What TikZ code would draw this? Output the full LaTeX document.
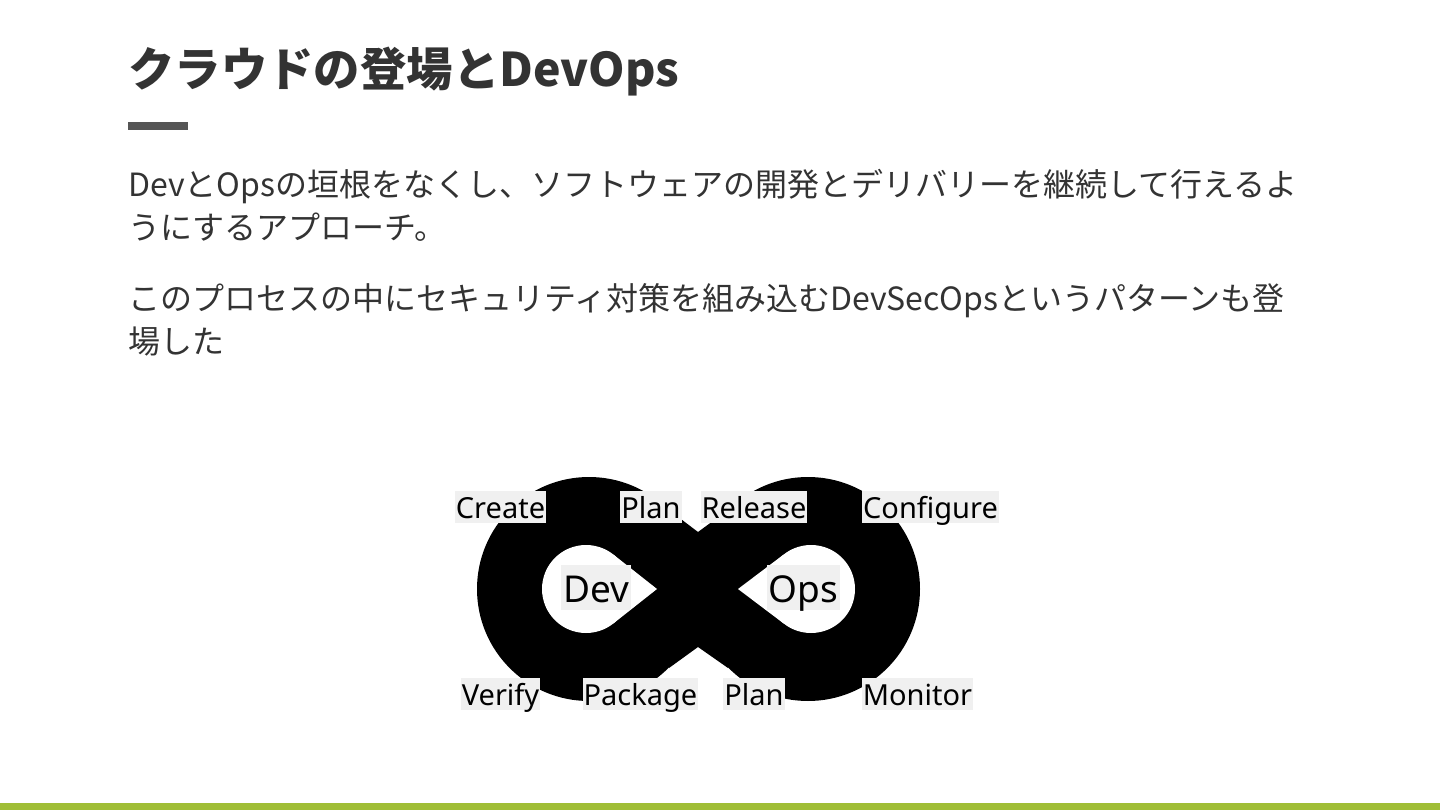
\documentclass[tikz,border=0pt]{standalone}
\usepackage{fontspec}
\setmainfont{Noto Sans CJK JP}
\newfontfamily\labfont{Noto Sans}
\definecolor{txt}{HTML}{333333}
\definecolor{barg}{HTML}{A0BE37}
\definecolor{grayb}{HTML}{555555}
\definecolor{labbg}{HTML}{F0F0F0}
\tikzset{
  titletext/.style={anchor=base west, inner sep=0, text=txt, font=\fontsize{46.4}{56}\selectfont\bfseries},
  bodytext/.style={anchor=base west, inner sep=0, text=txt, font=\fontsize{32}{43}\selectfont},
  lab/.style={fill=labbg, inner xsep=1pt, inner ysep=0pt, text height=27pt, text depth=5pt, text=black, font=\labfont\fontsize{29}{32}\selectfont},
  biglab/.style={fill=labbg, inner xsep=2pt, inner ysep=0pt, text height=37pt, text depth=8pt, text=black, font=\labfont\fontsize{37}{40}\selectfont},
}
\begin{document}
\begin{tikzpicture}[x=1pt,y=-1pt]
\useasboundingbox (0,0) rectangle (1440,810);
\fill[white] (0,0) rectangle (1440,810);
\fill[barg] (0,803) rectangle (1440,810);

\node[titletext] (title) at (128,87) {クラウドの登場とDevOps};
\fill[grayb] (128,122) rectangle (188,130);

\node[bodytext] (p1a) at (128,197) {DevとOpsの垣根をなくし、ソフトウェアの開発とデリバリーを継続して行えるよ};
\node[bodytext] (p1b) at (128,240) {うにするアプローチ。};
\node[bodytext] (p2a) at (128,310) {このプロセスの中にセキュリティ対策を組み込むDevSecOpsというパターンも登};
\node[bodytext] (p2b) at (128,353) {場した};

% infinity shape
\fill[black] (589,589) circle (112);
\fill[black] (808,589) circle (112);
\fill[black] (669,510) -- (698,532) -- (728,510) -- (728,668) -- (698,647) -- (669,668) -- cycle;
% holes
\fill[white] (586,589) circle (44);
\fill[white] (657,589) -- (613.3,554.5) -- (613.3,623.5) -- cycle;
\fill[white] (811,589) circle (44);
\fill[white] (738,589) -- (783.7,554.5) -- (783.7,623.5) -- cycle;

% labels
\node[lab] (create) at (500.5,507) {Create};
\node[lab] (plan1) at (651,507) {Plan};
\node[lab] (release) at (754,507) {Release};
\node[lab] (configure) at (930.5,507) {Configure};
\node[lab] (verify) at (500.5,694) {Verify};
\node[lab] (package) at (640.5,694) {Package};
\node[lab] (plan2) at (754,694) {Plan};
\node[lab] (monitor) at (917.5,694) {Monitor};
\node[biglab] (dev) at (596,587.5) {Dev};
\node[biglab] (ops) at (803.5,587.5) {Ops};
\end{tikzpicture}
\end{document}
